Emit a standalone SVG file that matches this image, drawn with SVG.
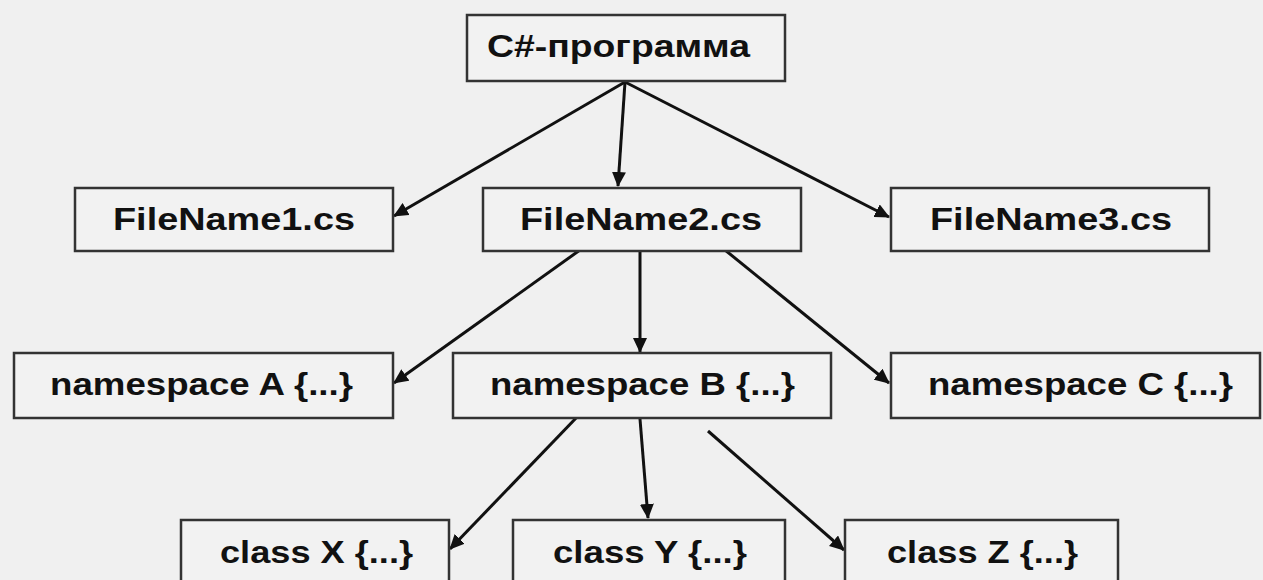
<svg xmlns="http://www.w3.org/2000/svg" width="1263" height="580" viewBox="0 0 1263 580">
<defs>
<style>
.box{fill:#f2f2f2;stroke:#333;stroke-width:2.5}
.t{font-family:"Liberation Sans",Arial,sans-serif;font-weight:bold;font-size:32px;fill:#111}
.c{stroke:#111;stroke-width:3;fill:none;marker-end:url(#ah)}
</style>
<marker id="ah" markerUnits="userSpaceOnUse" markerWidth="16" markerHeight="14" refX="14" refY="7" orient="auto">
<path d="M0,0 L15,7 L0,14 z" fill="#111"/>
</marker>
</defs>
<rect width="1263" height="580" fill="#f0f0f0"/>
<g id="connectors">
<line class="c" x1="625" y1="82" x2="394" y2="216"/>
<line class="c" x1="625" y1="82" x2="618" y2="186"/>
<line class="c" x1="625" y1="82" x2="889" y2="217"/>
<line class="c" x1="580" y1="250" x2="394" y2="383"/>
<line class="c" x1="640" y1="252" x2="640" y2="352"/>
<line class="c" x1="725" y1="250" x2="889" y2="383"/>
<line class="c" x1="578" y1="416" x2="450" y2="549"/>
<line class="c" x1="640" y1="419" x2="648" y2="518"/>
<line class="c" x1="708" y1="431" x2="844" y2="550"/>
</g>
<g id="root">
<rect class="box" x="467" y="15" width="318" height="66"/>
<text class="t" x="487" y="57" textLength="263" lengthAdjust="spacingAndGlyphs">C#-программа</text>
</g>
<g id="file1">
<rect class="box" x="75" y="188" width="318" height="63"/>
<text class="t" x="113" y="230" textLength="242" lengthAdjust="spacingAndGlyphs">FileName1.cs</text>
</g>
<g id="file2">
<rect class="box" x="483" y="188" width="318" height="63"/>
<text class="t" x="520" y="230" textLength="242" lengthAdjust="spacingAndGlyphs">FileName2.cs</text>
</g>
<g id="file3">
<rect class="box" x="891" y="188" width="318" height="63"/>
<text class="t" x="930" y="230" textLength="242" lengthAdjust="spacingAndGlyphs">FileName3.cs</text>
</g>
<g id="nsA">
<rect class="box" x="14" y="353" width="379" height="65"/>
<text class="t" x="50" y="395" textLength="303" lengthAdjust="spacingAndGlyphs">namespace A {...}</text>
</g>
<g id="nsB">
<rect class="box" x="453" y="353" width="378" height="65"/>
<text class="t" x="490" y="395" textLength="305" lengthAdjust="spacingAndGlyphs">namespace B {...}</text>
</g>
<g id="nsC">
<rect class="box" x="891" y="353" width="369" height="65"/>
<text class="t" x="928" y="395" textLength="305" lengthAdjust="spacingAndGlyphs">namespace C {...}</text>
</g>
<g id="classX">
<rect class="box" x="181" y="520" width="268" height="70"/>
<text class="t" x="220" y="563" textLength="193" lengthAdjust="spacingAndGlyphs">class X {...}</text>
</g>
<g id="classY">
<rect class="box" x="513" y="520" width="272" height="70"/>
<text class="t" x="553" y="563" textLength="194" lengthAdjust="spacingAndGlyphs">class Y {...}</text>
</g>
<g id="classZ">
<rect class="box" x="845" y="520" width="273" height="70"/>
<text class="t" x="887" y="563" textLength="191" lengthAdjust="spacingAndGlyphs">class Z {...}</text>
</g>
</svg>
